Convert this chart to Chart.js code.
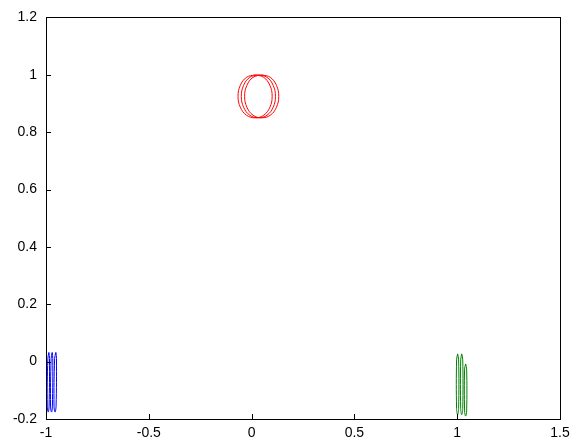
<!DOCTYPE html>
<html>
<head>
<meta charset="utf-8">
<script src="https://cdn.jsdelivr.net/npm/chart.js@4/dist/chart.umd.min.js"></script>
<style>
  html, body { margin: 0; padding: 0; background: #fff; }
  canvas { display: block; }
</style>
</head>
<body>
<canvas id="plot" width="580" height="443"></canvas>
<script>
// axis limits and tick labels
const xTicks = [-1, -0.5, 0, 0.5, 1, 1.5];
const yTicks = [-0.2, 0, 0.2, 0.4, 0.6, 0.8, 1, 1.2];

// red ovals near (0.03, 0.93) - traced outline points
const redY  = [1.0, 0.991, 0.963, 0.925, 0.887, 0.859, 0.85, 0.859, 0.887, 0.925, 0.963, 0.991, 1.0];
const red1X = [0.017, 0.059, 0.089, 0.100, 0.089, 0.059, 0.017, -0.025, -0.055, -0.066, -0.055, -0.025, 0.017];
const red2X = [0.033, 0.075, 0.105, 0.116, 0.105, 0.075, 0.033, -0.009, -0.039, -0.050, -0.039, -0.009, 0.033];
const red3X = [0.049, 0.091, 0.121, 0.132, 0.121, 0.091, 0.049, 0.007, -0.023, -0.034, -0.023, 0.007, 0.049];

// blue slivers near x = -1
const blueY  = [0.032, 0.011, -0.155, -0.176, -0.155, 0.011, 0.032];
const blue1X = [-0.986, -0.983, -0.985, -0.989, -0.994, -0.991, -0.986];
const blue2X = [-0.970, -0.967, -0.969, -0.973, -0.978, -0.975, -0.970];
const blue3X = [-0.952, -0.949, -0.951, -0.956, -0.961, -0.958, -0.952];

// green slivers near x = 1
const greenY  = [0.027, 0.006, -0.164, -0.185, -0.164, 0.006, 0.027];
const green3Y = [-0.008, -0.026, -0.172, -0.19, -0.172, -0.026, -0.008];
const green1X = [1.002, 1.007, 1.007, 1.002, 0.997, 0.997, 1.002];
const green2X = [1.022, 1.027, 1.027, 1.022, 1.017, 1.017, 1.022];
const green3X = [1.041, 1.046, 1.046, 1.041, 1.036, 1.036, 1.041];

function pts(xs, ys) {
    return xs.map((x, i) => ({ x: x, y: ys[i] }));
}

function outline(xs, ys, color) {
    return {
        data: pts(xs, ys),
        borderColor: color,
        borderWidth: 1,
        showLine: true,
        fill: false,
        tension: 0.4,
        pointRadius: 0
    };
}

// MATLAB style box with inward ticks
const boxAxes = {
    id: 'boxAxes',
    afterDraw(chart) {
        const { ctx, chartArea: a, scales } = chart;
        ctx.save();
        ctx.strokeStyle = '#000';
        ctx.lineWidth = 1;
        ctx.strokeRect(Math.round(a.left) + 0.5, Math.round(a.top) + 0.5,
            Math.round(a.right - a.left), Math.round(a.bottom - a.top));
        ctx.beginPath();
        scales.x.ticks.forEach(t => {
            const px = Math.round(scales.x.getPixelForValue(t.value)) + 0.5;
            ctx.moveTo(px, a.bottom);
            ctx.lineTo(px, a.bottom - 5);
        });
        scales.y.ticks.forEach(t => {
            const py = Math.round(scales.y.getPixelForValue(t.value)) + 0.5;
            ctx.moveTo(a.left, py);
            ctx.lineTo(a.left + 5, py);
        });
        ctx.stroke();
        ctx.restore();
    }
};

const tickFont = { family: 'Arial, "Liberation Sans", sans-serif', size: 14 };
const fmt = v => String(+Number(v).toFixed(2));

new Chart(document.getElementById('plot'), {
    type: 'scatter',
    data: {
        datasets: [
            outline(red1X, redY, '#ff0000'),
            outline(red2X, redY, '#ff0000'),
            outline(red3X, redY, '#ff0000'),
            outline(blue1X, blueY, '#0000ff'),
            outline(blue2X, blueY, '#0000ff'),
            outline(blue3X, blueY, '#0000ff'),
            outline(green1X, greenY, '#008000'),
            outline(green2X, greenY, '#008000'),
            outline(green3X, green3Y, '#008000')
        ]
    },
    options: {
        responsive: false,
        animation: false,
        layout: { padding: { top: 14, right: 20, left: 0, bottom: 0 } },
        plugins: { legend: { display: false }, tooltip: { enabled: false } },
        scales: {
            x: {
                type: 'linear',
                min: xTicks[0],
                max: xTicks[xTicks.length - 1],
                afterBuildTicks: s => { s.ticks = xTicks.map(v => ({ value: v })); },
                afterFit: s => { s.height = 24; },
                grid: { display: false, drawTicks: false },
                border: { display: false },
                ticks: { padding: 6, color: '#000', font: tickFont, maxRotation: 0, callback: fmt }
            },
            y: {
                type: 'linear',
                min: yTicks[0],
                max: yTicks[yTicks.length - 1],
                afterBuildTicks: s => { s.ticks = yTicks.map(v => ({ value: v })); },
                afterFit: s => { s.width = 46; },
                grid: { display: false, drawTicks: false },
                border: { display: false },
                ticks: { padding: 9, color: '#000', font: tickFont, callback: fmt }
            }
        }
    },
    plugins: [boxAxes]
});
</script>
</body>
</html>
